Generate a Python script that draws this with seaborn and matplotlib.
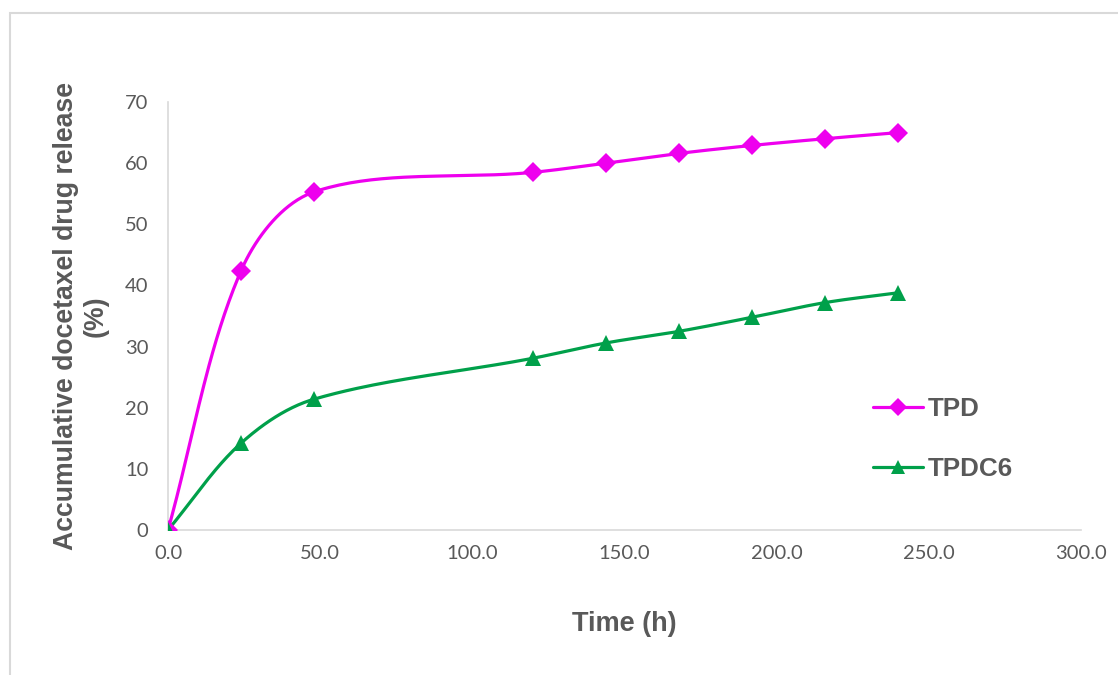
import numpy as np
import pandas as pd
import matplotlib
matplotlib.use("Agg")
import matplotlib.pyplot as plt
from matplotlib.lines import Line2D
from matplotlib.patches import Rectangle
import seaborn as sns

# Release data (time in hours, cumulative release in %)
time_h = [0, 24, 48, 120, 144, 168, 192, 216, 240]
tpd = [0, 42.4, 55.3, 58.5, 60.0, 61.6, 62.9, 64.0, 65.0]
tpdc6 = [0, 14.2, 21.4, 28.1, 30.6, 32.5, 34.8, 37.2, 38.8]
series_names = ["TPD", "TPDC6"]
x_ticks = [0, 50, 100, 150, 200, 250, 300]
y_ticks = [0, 10, 20, 30, 40, 50, 60, 70]

colors = {"TPD": "#ee00ee", "TPDC6": "#00a04a"}
markers = {"TPD": "D", "TPDC6": "^"}
marker_sizes = {"TPD": 10, "TPDC6": 11}
text_gray = "#595959"
axis_gray = "#d9d9d9"

X_MAX, Y_MAX = 300, 70
AX_W_PX, AX_H_PX = 913, 428


def smooth_curve(x, y, n=40):
    """Chord-length Bezier smoothing through the points, measured in display units."""
    p = np.column_stack([x, y]).astype(float)
    scale = np.array([AX_W_PX / X_MAX, AX_H_PX / Y_MAX])
    q = p * scale
    d = np.linalg.norm(np.diff(q, axis=0), axis=1)
    m = np.zeros_like(q)
    m[0] = (q[1] - q[0]) / d[0]
    m[-1] = (q[-1] - q[-2]) / d[-1]
    for i in range(1, len(q) - 1):
        m[i] = (q[i + 1] - q[i - 1]) / (d[i - 1] + d[i])
    out = []
    for i in range(len(q) - 1):
        p1, p2 = q[i], q[i + 1]
        c1 = p1 + m[i] * d[i] / 3.0
        c2 = p2 - m[i + 1] * d[i] / 3.0
        t = np.linspace(0, 1, n, endpoint=(i == len(q) - 2))[:, None]
        seg = ((1 - t) ** 3) * p1 + 3 * ((1 - t) ** 2) * t * c1 \
            + 3 * (1 - t) * t ** 2 * c2 + t ** 3 * p2
        out.append(seg)
    out = np.vstack(out) / scale
    return out[:, 0], out[:, 1]


sns.set_theme(style="white")
plt.rcParams["font.family"] = ["Lato", "DejaVu Sans"]

fig = plt.figure(figsize=(11.18, 6.75), dpi=100)
ax = fig.add_axes([168 / 1118, 1 - 530 / 675, AX_W_PX / 1118, AX_H_PX / 675])

points = pd.DataFrame({
    "time": time_h * 2,
    "release": tpd + tpdc6,
    "series": ["TPD"] * len(time_h) + ["TPDC6"] * len(time_h),
})

curves = []
for name, vals in zip(series_names, [tpd, tpdc6]):
    sx, sy = smooth_curve(time_h, vals)
    curves.append(pd.DataFrame({"time": sx, "release": sy, "series": name}))
curves = pd.concat(curves, ignore_index=True)

for name in series_names:
    sns.lineplot(data=curves[curves.series == name], x="time", y="release",
                 color=colors[name], linewidth=2.3, sort=False,
                 estimator=None, ax=ax, legend=False)
for name in series_names:
    sub = points[points.series == name]
    ax.plot(sub["time"], sub["release"], linestyle="none",
            marker=markers[name], markersize=marker_sizes[name],
            color=colors[name], markeredgewidth=0, zorder=4)

ax.set_xlim(0, X_MAX)
ax.set_ylim(0, Y_MAX)
ax.set_xticks(x_ticks)
ax.set_xticklabels([f"{v:.1f}" for v in x_ticks])
ax.set_yticks(y_ticks)
ax.tick_params(axis="both", length=0, labelsize=14.5, colors=text_gray)
ax.tick_params(axis="x", pad=11)
ax.tick_params(axis="y", pad=14)

for side in ["top", "right"]:
    ax.spines[side].set_visible(False)
for side in ["left", "bottom"]:
    ax.spines[side].set_color(axis_gray)
    ax.spines[side].set_linewidth(1.2)
ax.set_clip_on(False)

ax.set_xlabel("Time (h)", fontsize=19.5, fontweight="bold", color=text_gray,
              family="Liberation Sans", labelpad=35)
ax.set_ylabel("Accumulative docetaxel drug release\n(%)", fontsize=19.2,
              fontweight="bold", color=text_gray, family="Liberation Sans",
              labelpad=12, linespacing=1.15)

handles = [Line2D([0], [0], color=colors[n], linewidth=2.3, marker=markers[n],
                  markersize=marker_sizes[n] - 1, markeredgewidth=0)
           for n in series_names]
leg = ax.legend(handles, series_names, loc="center left",
                bbox_to_anchor=((850 - 168) / AX_W_PX, (530 - 439) / AX_H_PX),
                frameon=False, handlelength=1.9, handletextpad=0.2,
                labelspacing=1.38,
                prop={"family": "Liberation Sans", "weight": "bold", "size": 18.7})
for t in leg.get_texts():
    t.set_color(text_gray)

# light outer frame of the chart area
fig.patches.append(Rectangle((10 / 1118, -0.2), 1.2, 1 - 13 / 675 + 0.2,
                             transform=fig.transFigure, fill=False,
                             edgecolor=axis_gray, linewidth=1.5))

fig.savefig("out.png", dpi=100)
